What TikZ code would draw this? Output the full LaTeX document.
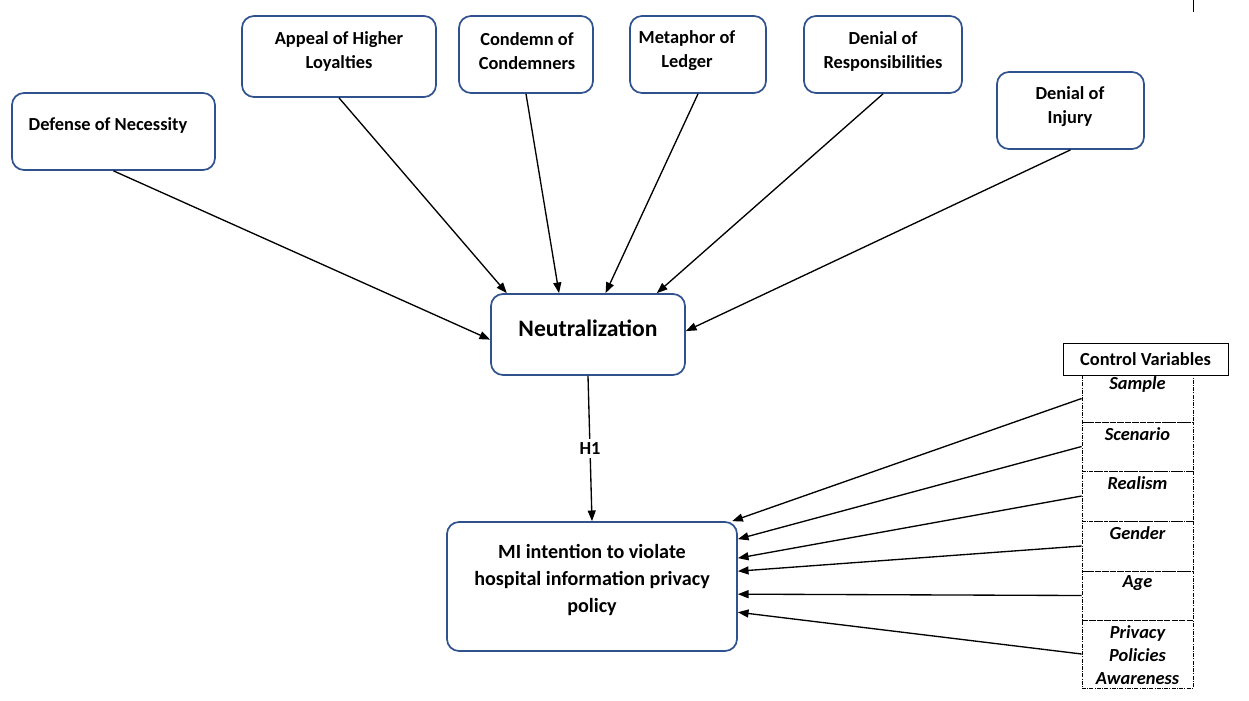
\documentclass[tikz,border=0pt]{standalone}
\usepackage{fontspec}
\setmainfont{Carlito}
\usetikzlibrary{arrows.meta}
\definecolor{boxblue}{HTML}{2F528F}
\tikzset{
  factor/.style={draw=boxblue, line width=1.3pt, rounded corners=9pt, inner sep=0pt},
  ftext/.style={align=center, inner sep=0pt, font=\bfseries\fontsize{13.8}{18}\selectfont},
  arrow/.style={line width=1pt, -{Triangle[length=8pt,width=6pt]}},
  cell/.style={draw, line width=0.6pt, densely dashdotted, minimum width=83.25pt, inner sep=0pt},
  celltext/.style={align=center, inner sep=0pt, font=\bfseries\itshape\fontsize{13.8}{17.25}\selectfont}
}
\begin{document}
\begin{tikzpicture}[x=0.75pt, y=-0.75pt]
        \useasboundingbox (0,0) rectangle (1249,700);

        % Draw the neutralization techniques
        \node[factor, minimum width=152.25pt, minimum height=57.75pt] (defense) at (113.5,131.5) {};
        \node[ftext] (defense-txt) at (108,125) {Defense of Necessity};
        \node[factor, minimum width=145.5pt, minimum height=60.75pt] (appeal) at (339,56.5) {};
        \node[ftext] (appeal-txt) at (339,51) {Appeal of Higher\\Loyalties};
        \node[factor, minimum width=100.5pt, minimum height=57.75pt] (condemn) at (526,54.5) {};
        \node[ftext] (condemn-txt) at (527,51) {Condemn of\\Condemners};
        \node[factor, minimum width=102pt, minimum height=57.75pt] (ledger) at (698,54.5) {};
        \node[ftext] (ledger-txt) at (687,51) {Metaphor of\\Ledger};
        \node[factor, minimum width=118.5pt, minimum height=57.75pt] (resp) at (883,54.5) {};
        \node[ftext] (resp-txt) at (883,51) {Denial of\\Responsibilities};
        \node[factor, minimum width=110.25pt, minimum height=57.75pt] (injury) at (1070.5,110.5) {};
        \node[ftext] (injury-txt) at (1070,107) {Denial of\\Injury};

        % Draw the central constructs
        \node[factor, minimum width=145.5pt, minimum height=60.75pt] (neut) at (588,334.5) {};
        \node[ftext, font=\bfseries\fontsize{17.7}{20}\selectfont] (neut-txt) at (588,328) {Neutralization};
        \node[factor, minimum width=217.5pt, minimum height=96.75pt] (mi) at (592,586.5) {};
        \node[ftext, font=\bfseries\fontsize{15.1}{20.25}\selectfont] (mi-txt) at (592,580) {MI intention to violate\\hospital information privacy\\policy};

        % Draw the control variables
        \node[draw, line width=0.75pt, minimum width=123.75pt, minimum height=24pt, inner sep=0pt,
              font=\bfseries\fontsize{13.8}{16}\selectfont] (control) at (1145.5,359) {Control Variables};
        \foreach \nm/\ya/\yb/\yt/\txt in {sample/375/422/384/Sample, scenario/422/471/434/Scenario,
            realism/471/521/483/Realism, gender/521/571/533/Gender, age/571/620/583/Age,
            privacy/620/688/655/{Privacy\\Policies\\Awareness}}
        {
          \node[cell, minimum height={(\yb-\ya)*0.75pt}] (\nm) at (1137.5,{(\ya+\yb)/2}) {};
          \node[celltext] (\nm-txt) at (1137.5,\yt) {\txt};
        }
        \draw[line width=0.75pt] (1193,0) -- (1193,12);

        % Draw the paths into neutralization
        \draw[arrow] (defense.south) -- (neut.183);
        \draw[arrow] (appeal.south) -- (neut.153.4);
        \draw[arrow] (condemn.south) -- (neut.125.6);
        \draw[arrow] (ledger.south) -- (neut.67.2);
        \draw[arrow] (resp.south) -- (neut.31.9);
        \draw[arrow] (injury.south) -- (neut.2);

        % Draw the hypothesis and the control paths
        \draw[arrow] (neut.south) -- node[fill=white, inner sep=3pt, font=\bfseries\fontsize{13.8}{16}\selectfont] (h1) {H1} (mi.north);
        \draw[arrow] (sample.west) -- (mi.25.5);
        \draw[arrow] (scenario.west) -- (mi.18.1);
        \draw[arrow] (realism.west) -- (mi.11.5);
        \draw[arrow] (gender.west) -- (mi.6.9);
        \draw[arrow] (age.west) -- (mi.-3);
        \draw[arrow] (privacy.west) -- (mi.-10.7);
\end{tikzpicture}
\end{document}
